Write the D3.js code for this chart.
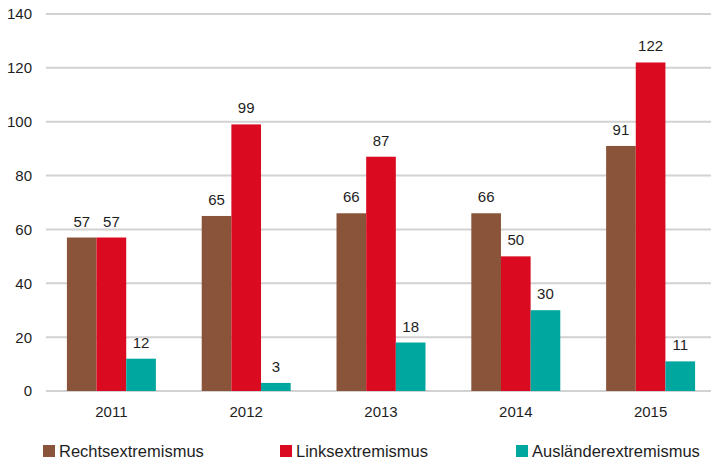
<!DOCTYPE html>
<html>
<head>
<meta charset="utf-8">
<script src="https://cdn.jsdelivr.net/npm/d3@7"></script>
<style>
  body { margin: 0; background: #fff; }
  svg { display: block; font-family: "Liberation Sans", Arial, sans-serif; }
</style>
</head>
<body>
<script>
var years = ["2011", "2012", "2013", "2014", "2015"];
var seriesNames = ["Rechtsextremismus", "Linksextremismus", "Ausländerextremismus"];
var rechts = [57, 65, 66, 66, 91];
var links = [57, 99, 87, 50, 122];
var auslaender = [12, 3, 18, 30, 11];
var yTicks = [0, 20, 40, 60, 80, 100, 120, 140];

var colors = ["#8a543a", "#da0a20", "#00a79f"];
var values = [rechts, links, auslaender];

var width = 711,
    height = 461;

var svg = d3.select("body").append("svg")
    .attr("width", width)
    .attr("height", height);

var x = d3.scaleBand()
    .domain(years)
    .range([44, 718])
    .paddingInner(0.34)
    .paddingOuter(0.17);

var xSub = d3.scaleBand()
    .domain(d3.range(seriesNames.length))
    .range([0, x.bandwidth()]);

var y = d3.scaleLinear()
    .domain([0, 140])
    .range([391, 14]);

// gridlines
svg.append("g").selectAll("line")
    .data(yTicks)
    .enter().append("line")
    .attr("x1", 46)
    .attr("x2", width)
    .attr("y1", function(d) { return y(d); })
    .attr("y2", function(d) { return y(d); })
    .attr("stroke", "#d2d2d2")
    .attr("stroke-width", 2);

// y labels
svg.append("g").selectAll("text")
    .data(yTicks)
    .enter().append("text")
    .attr("x", 32)
    .attr("y", function(d) { return y(d); })
    .attr("dy", "0.36em")
    .attr("text-anchor", "end")
    .attr("font-size", 15)
    .attr("fill", "#1e1e1e")
    .text(function(d) { return d; });

// bars
var groups = svg.append("g").selectAll("g")
    .data(years)
    .enter().append("g")
    .attr("transform", function(d) { return "translate(" + x(d) + ",0)"; });

groups.selectAll("rect")
    .data(function(d, i) { return values.map(function(v, s) { return {s: s, v: v[i]}; }); })
    .enter().append("rect")
    .attr("x", function(d) { return xSub(d.s); })
    .attr("width", xSub.bandwidth())
    .attr("y", function(d) { return y(d.v); })
    .attr("height", function(d) { return y(0) - y(d.v); })
    .attr("fill", function(d) { return colors[d.s]; });

// value labels
groups.selectAll("text")
    .data(function(d, i) { return values.map(function(v, s) { return {s: s, v: v[i]}; }); })
    .enter().append("text")
    .attr("x", function(d) { return xSub(d.s) + xSub.bandwidth() / 2; })
    .attr("y", function(d) { return y(d.v) - 11; })
    .attr("text-anchor", "middle")
    .attr("font-size", 15)
    .attr("fill", "#1e1e1e")
    .text(function(d) { return d.v; });

// x labels
svg.append("g").selectAll("text")
    .data(years)
    .enter().append("text")
    .attr("x", function(d) { return x(d) + x.bandwidth() / 2; })
    .attr("y", 417)
    .attr("text-anchor", "middle")
    .attr("font-size", 15)
    .attr("fill", "#1e1e1e")
    .text(function(d) { return d; });

// legend
var legendX = [43, 280, 516];
var legend = svg.append("g").selectAll("g")
    .data(seriesNames)
    .enter().append("g")
    .attr("transform", function(d, i) { return "translate(" + legendX[i] + ",445)"; });

legend.append("rect")
    .attr("width", 12)
    .attr("height", 12)
    .attr("fill", function(d, i) { return colors[i]; });

legend.append("text")
    .attr("x", 16)
    .attr("y", 12)
    .attr("font-size", 16.5)
    .attr("fill", "#1e1e1e")
    .text(function(d) { return d; });
</script>
</body>
</html>
